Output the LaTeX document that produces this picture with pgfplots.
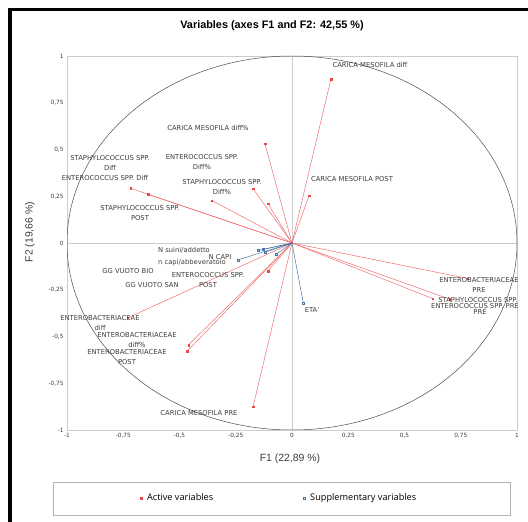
\documentclass[border=0pt]{standalone}
\usepackage{fontspec}
\setmainfont{Carlito}
\newfontfamily\arial{Liberation Sans}
\newfontfamily\labfont{DejaVu Sans}
\newfontfamily\legfont{Open Sans}
\usepackage{pgfplots}
\usepackage{pgfplotstable}
\pgfplotsset{compat=1.18}

\definecolor{actred}{RGB}{236,72,72}
\definecolor{suppblue}{RGB}{70,118,165}
\definecolor{labgray}{RGB}{60,60,60}

% active variables (F1, F2)
\pgfplotstableread{
x y
0.173 0.876
-0.120 0.530
-0.716 0.292
-0.640 0.260
-0.356 0.227
-0.173 0.290
-0.107 0.210
0.076 0.254
-0.107 -0.150
0.780 -0.190
0.700 -0.300
0.625 -0.297
-0.730 -0.400
-0.460 -0.545
-0.467 -0.580
-0.173 -0.876
}\activevars

% supplementary variables
\pgfplotstableread{
x y
0.050 -0.320
-0.130 -0.035
-0.150 -0.040
-0.120 -0.050
-0.240 -0.090
-0.070 -0.060
}\suppvars

\begin{document}
\begin{tikzpicture}
\path[use as bounding box] (0,0) rectangle (528bp,522bp);

\begin{axis}[
    at={(67bp,92bp)}, anchor=south west,
    scale only axis, width=450bp, height=374bp,
    xmin=-1, xmax=1, ymin=-1, ymax=1,
    axis line style={gray!40},
    major tick length=0pt,
    xtick={-1,-0.75,-0.5,-0.25,0,0.25,0.5,0.75,1},
    ytick={-1,-0.75,-0.5,-0.25,0,0.25,0.5,0.75,1},
    xticklabels={{-1},{-0,75},{-0,5},{-0,25},{0},{0,25},{0,5},{0,75},{1}},
    yticklabels={{-1},{-0,75},{-0,5},{-0,25},{0},{0,25},{0,5},{0,75},{1}},
    ticklabel style={font=\labfont\fontsize{5.8}{7}\selectfont, text=labgray},
    legend style={at={(0.472,-0.182)}, anchor=center, draw=none, fill=none,
        legend columns=2, font=\legfont\fontsize{9.2}{10}\selectfont,
        /tikz/every even column/.append style={column sep=88bp}},
    legend image code/.code={\draw[mark repeat=2,mark phase=2,#1] plot coordinates {(0cm,0cm) (0.1cm,0cm) (0.25cm,0cm)};},
]
\draw[gray!40] (axis cs:-1,0) -- (axis cs:1,0);
\draw[gray!40] (axis cs:0,-1) -- (axis cs:0,1);
\draw[gray!60!black, line width=0.5pt] (axis cs:0,0) ellipse [x radius=1, y radius=1];

\addplot[actred!80, line width=0.5pt, quiver={u=\thisrow{x}, v=\thisrow{y}}, forget plot]
    table[x expr=0, y expr=0] {\activevars};
\addplot[suppblue, line width=0.5pt, quiver={u=\thisrow{x}, v=\thisrow{y}}, forget plot]
    table[x expr=0, y expr=0] {\suppvars};

\addplot[only marks, mark=square*, mark size=0.8pt, color=actred] table {\activevars};
\addlegendentry{\hspace{3bp}Active variables}
\addplot[only marks, mark=square, mark size=1pt, color=suppblue] table {\suppvars};
\addlegendentry{\hspace{3bp}Supplementary variables}
\end{axis}

\begin{scope}[x=1bp, y=1bp]
\draw[line width=3bp] (10,0) -- (10,512) -- (528,512);
\draw[gray!60, line width=0.8pt] (53,7) rectangle (510,40);

\node[font=\arial\bfseries\fontsize{10.9}{12}\selectfont] at (272,496) {Variables (axes F1 and F2: 42,55 \%)};
\node[font=\arial\fontsize{10.5}{12}\selectfont, text=labgray] at (290,63) {F1 (22,89 \%)};
\node[font=\arial\fontsize{10.5}{12}\selectfont, text=labgray, rotate=90] at (30,290) {F2 (19,66 \%)};

\begin{scope}[every node/.style={font=\labfont\fontsize{6.8}{9.5}\selectfont, text=labgray, align=center, inner sep=0pt}]
\node at (370,457) {CARICA MESOFILA diff};
\node at (208,394) {CARICA MESOFILA diff\%};
\node at (110,359) {STAPHYLOCOCCUS SPP.\\Diff};
\node at (105,344) {ENTEROCOCCUS SPP. Diff};
\node at (202,360) {ENTEROCOCCUS SPP.\\Diff\%};
\node at (222,335) {STAPHYLOCOCCUS SPP.\\Diff\%};
\node at (140,309) {STAPHYLOCOCCUS SPP.\\POST};
\node at (352,343) {CARICA MESOFILA POST};
\node at (184,272) {N suini/addetto};
\node at (220,265) {N CAPI};
\node at (192,259) {n capi/abbeveratoio};
\node at (128,251) {GG VUOTO BIO};
\node at (208,242) {ENTEROCOCCUS SPP.\\POST};
\node at (152,237) {GG VUOTO SAN};
\node at (312,212) {ETA'};
\node at (100,199) {ENTEROBACTERIACEAE\\diff};
\node at (137,182) {ENTEROBACTERIACEAE\\diff\%};
\node at (127,165) {ENTEROBACTERIACEAE\\POST};
\node at (199,109) {CARICA MESOFILA PRE};
\node at (479,237) {ENTEROBACTERIACEAE\\PRE};
\node at (478,222) {STAPHYLOCOCCUS SPP.};
\node at (475,216) {ENTEROCOCCUS SPP. PRE};
\node at (480,210) {PRE};
\end{scope}
\end{scope}
\end{tikzpicture}
\end{document}
